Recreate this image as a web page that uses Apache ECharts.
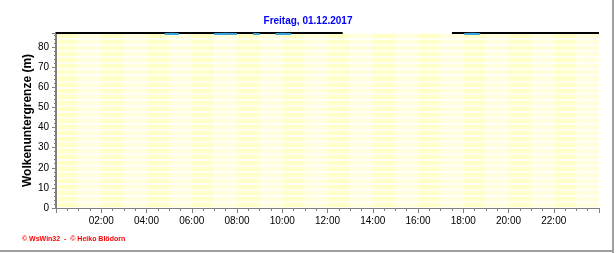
<!DOCTYPE html>
<html><head><meta charset="utf-8">
<script src="https://cdn.jsdelivr.net/npm/echarts@6/dist/echarts.min.js"></script>
<style>html,body{margin:0;padding:0;background:#fff;}#c{width:616px;height:253px;}</style>
</head><body><div id="c"></div>
<script>
// Data (hours of day, cloud base in m)
const hours = [4.8, 5.1, 5.43, 5.6, 6.98, 7.5, 8.0, 8.2, 8.7, 9.0, 9.2, 9.7, 10.0, 10.4, 10.6, 18.05, 18.4, 18.75];
const cloudBase = [86.5, 86.6, 86.5, null, 86.5, 86.6, 86.5, null, 86.5, 86.5, null, 86.5, 86.6, 86.5, null, 86.5, 86.6, 86.5];
const yTicks = [0, 10, 20, 30, 40, 50, 60, 70, 80];
const xTickLabels = ['', '02:00', '04:00', '06:00', '08:00', '10:00', '12:00', '14:00', '16:00', '18:00', '20:00', '22:00', ''];
// top frame segments (gap in original)
const frameHours = [0, 12.67, 12.7, 17.5, 24];
const frameVals = [87, 87, null, 87, 87];

const chart = echarts.init(document.getElementById('c'), null, {renderer: 'canvas'});
const font = 'Liberation Sans, Arial, sans-serif';
chart.setOption({
  animation: false,
  title: {
    text: 'Freitag, 01.12.2017', left: 'center', top: 11,
    textStyle: {color: '#0000ff', fontSize: 10, fontWeight: 'bold', fontFamily: font}
  },
  grid: {left: 56, right: 17, top: 33, bottom: 45},
  xAxis: [{
    type: 'value', min: 0, max: 24, interval: 2, z: 3,
    axisLine: {show: true, lineStyle: {color: '#808080', width: 1}},
    axisTick: {show: true, length: 5, lineStyle: {color: '#808080'}},
    minorTick: {show: true, splitNumber: 4, length: 3, lineStyle: {color: '#808080'}},
    axisLabel: {color: '#000', fontSize: 10, fontFamily: font, margin: 8,
      formatter: v => xTickLabels[Math.round(v / 2)] || ''},
    splitLine: {show: false}
  }, {
    type: 'value', min: 0, max: 24, interval: 1, position: 'top', z: 0,
    axisLine: {show: false}, axisTick: {show: false}, axisLabel: {show: false},
    splitLine: {show: false},
    splitArea: {show: true, areaStyle: {color: ['#ffffc8', '#ffffde']}}
  }],
  yAxis: [{
    type: 'value', min: 0, max: 87, interval: 10, z: 3,
    name: 'Wolkenuntergrenze (m)', nameLocation: 'middle', nameGap: 22, nameRotate: 90,
    nameMoveOverlap: false,
    nameTextStyle: {color: '#000', fontSize: 12, fontWeight: 'bold', fontFamily: font},
    axisLine: {show: true, lineStyle: {color: '#808080', width: 2}},
    axisTick: {show: true, length: 4, lineStyle: {color: '#808080'}},
    minorTick: {show: true, splitNumber: 5, length: 2, lineStyle: {color: '#808080'}},
    axisLabel: {color: '#000', fontSize: 10, fontFamily: font, margin: 7,
      formatter: v => yTicks.includes(v) ? String(v) : ''},
    splitLine: {show: false}
  }, {
    type: 'value', min: 0, max: 87, interval: 3, position: 'right', z: 1,
    axisLine: {show: true, lineStyle: {color: '#000', width: 2}},
    axisTick: {show: false}, axisLabel: {show: false},
    splitLine: {show: true, lineStyle: {color: '#ffffff', width: 1.5}}
  }],
  series: [{
    type: 'line', xAxisIndex: 0, yAxisIndex: 0,
    data: hours.map((h, i) => [h, cloudBase[i]]),
    symbol: 'none', connectNulls: false,
    lineStyle: {color: '#3da5d9', width: 2}, silent: true, z: 5
  }, {
    type: 'line', xAxisIndex: 0, yAxisIndex: 0, clip: false,
    data: frameHours.map((h, i) => [h, frameVals[i]]),
    symbol: 'none', connectNulls: false,
    lineStyle: {color: '#000', width: 2}, silent: true, z: 4
  }],
  graphic: [
    {type: 'text', left: 22, top: 236,
     style: {text: '© WsWin32  -  © Heiko Blödorn', fill: '#ff0000', font: 'bold 7px ' + font}},
    {type: 'rect', shape: {x: 612, y: 0, width: 2, height: 253}, style: {fill: '#a0a0a0'}},
    {type: 'rect', shape: {x: 0, y: 250, width: 614, height: 2}, style: {fill: '#a0a0a0'}}
  ]
});
</script></body></html>
